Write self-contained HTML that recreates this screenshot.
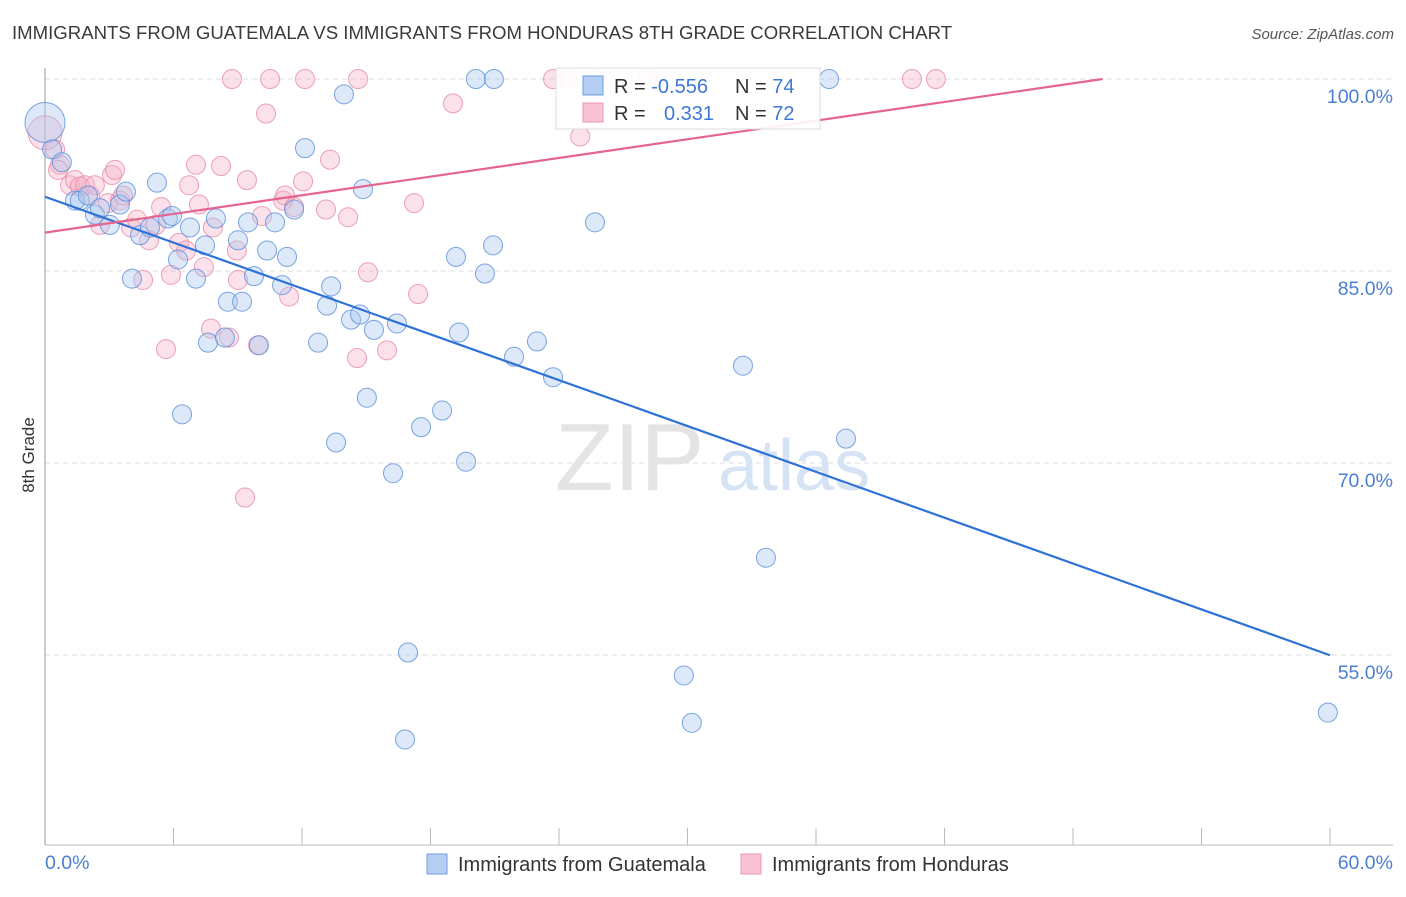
<!DOCTYPE html>
<html><head><meta charset="utf-8"><style>
body{margin:0;background:#fff;font-family:"Liberation Sans",sans-serif;}
svg text{font-family:"Liberation Sans",sans-serif;}
</style></head><body>
<svg id="chart" width="1406" height="892" viewBox="0 0 1406 892" xmlns="http://www.w3.org/2000/svg">
<text x="12" y="39" font-size="18.6" fill="#3a3a3a">IMMIGRANTS FROM GUATEMALA VS IMMIGRANTS FROM HONDURAS 8TH GRADE CORRELATION CHART</text>
<text x="1394" y="39" font-size="15" fill="#555" font-style="italic" text-anchor="end">Source: ZipAtlas.com</text>
<g id="grid"></g>
<text x="555" y="490" font-size="96" fill="#e4e4e4" font-family="Liberation Serif" >ZIP</text>
<text x="718" y="490" font-size="72" fill="#d6e3f5">atlas</text>
<line x1="45" y1="68" x2="45" y2="845" stroke="#bbb" stroke-width="1.5"/>
<line x1="45" y1="845" x2="1393" y2="845" stroke="#bbb" stroke-width="1"/>
<g id="ticks"></g>
<g id="points"></g>
<g id="trends"></g>
<text transform="translate(34,455) rotate(-90)" font-size="17" fill="#333" text-anchor="middle">8th Grade</text>
<text x="45" y="869" font-size="19.5" fill="#4a7fd4">0.0%</text>
<text x="1393" y="869" font-size="19.5" fill="#4a7fd4" text-anchor="end">60.0%</text>
<g>
<rect x="556" y="68" width="264" height="61" fill="#fff" fill-opacity="0.9" stroke="#ddd"/>
<rect x="583" y="76" width="20" height="19" fill="#b4cff3" stroke="#6f9ee0"/>
<rect x="583" y="103" width="20" height="19" fill="#f9c3d3" stroke="#ec97b1"/>
<text x="614" y="93" font-size="20" fill="#333">R = <tspan fill="#3e78d6">-0.556</tspan></text>
<text x="735" y="93" font-size="20" fill="#333">N = <tspan fill="#3e78d6">74</tspan></text>
<text x="614" y="120" font-size="20" fill="#333">R = <tspan fill="#3e78d6" x="664">0.331</tspan></text>
<text x="735" y="120" font-size="20" fill="#333">N = <tspan fill="#3e78d6">72</tspan></text>
</g>
<g>
<rect x="427" y="854" width="20" height="20" fill="#b4cff3" stroke="#6f9ee0"/>
<text x="458" y="871" font-size="20" fill="#333">Immigrants from Guatemala</text>
</g>
<g>
<rect x="741" y="854" width="20" height="20" fill="#f9c3d3" stroke="#ec97b1"/>
<text x="772" y="871" font-size="20" fill="#333">Immigrants from Honduras</text>
</g>
</svg>
<script>
const yTicks=[100,85,70,55];
const yTickLabels=["100.0%","85.0%","70.0%","55.0%"];
const xTicks=[0,6,12,18,24,30,36,42,48,54,60];
const guatX=[0,0.33,0.79,1.40,1.63,2.33,2.0,2.57,3.03,3.50,3.78,4.44,4.90,5.23,5.74,5.93,4.06,6.21,6.77,7.05,7.47,7.98,8.54,9.20,9.01,9.48,9.76,10.37,10.74,11.07,11.30,11.63,12.14,7.61,8.40,9.99,6.40,12.75,13.17,13.36,13.96,14.29,14.71,14.85,15.36,16.43,13.59,15.03,16.25,16.95,16.81,17.56,18.54,19.19,19.33,19.66,20.12,20.96,20.54,20.92,21.90,22.97,23.72,25.68,29.83,30.2,32.59,33.66,36.61,37.40,59.90];
const guatY=[96.6,94.5,93.5,90.5,90.5,89.4,90.9,89.9,88.6,90.2,91.2,87.8,88.4,91.9,89.1,89.3,84.4,85.9,88.4,84.4,87.0,89.1,82.6,82.6,87.4,88.8,84.6,86.6,88.8,83.9,86.1,89.8,94.6,79.4,79.8,79.2,73.8,79.4,82.3,83.8,98.8,81.2,81.6,91.4,80.4,80.9,71.6,75.1,69.2,55.2,48.4,72.8,74.1,86.1,80.2,70.1,100,100,84.8,87.0,78.3,79.5,76.7,88.8,53.4,49.7,77.6,62.6,100,71.9,50.5];
const hondX=[0,0.47,0.70,0.61,1.17,1.40,1.63,1.87,2.10,2.57,2.94,3.13,3.27,3.50,3.64,4.02,4.30,4.86,4.58,5.18,5.42,5.65,5.88,6.26,6.59,6.73,7.05,7.19,7.42,7.75,7.84,8.22,8.59,8.73,8.96,9.01,9.34,9.43,9.95,10.13,10.32,10.51,11.12,11.21,11.40,11.63,12.05,12.14,13.12,13.31,14.15,14.57,14.62,15.08,15.97,17.23,17.42,19.05,23.72,24.38,24.99,25.73,28.15,40.48,41.60,2.33];
const hondY=[95.8,94.5,93.3,92.9,91.7,92.1,91.6,91.7,90.9,88.6,90.3,92.5,92.9,90.5,90.9,88.4,89.0,87.4,84.3,88.6,90.0,78.9,84.7,87.2,86.6,91.7,93.3,90.2,85.3,80.5,88.4,93.2,79.8,100,86.6,84.3,67.3,92.1,79.2,89.3,97.3,100,90.5,90.9,83.0,90.0,92.0,100,89.8,93.7,89.2,78.2,100,84.9,78.8,90.3,83.2,98.1,100,100,95.5,100,100,100,100,91.7];
const guatTrend=[90.8,-0.597]; // intercept, slope per %
const hondTrend=[88.0,0.243];
const X=v=>45+v*(1285/60);
const Y=v=>79+(100-v)*12.8;
const NS="http://www.w3.org/2000/svg";
const grid=document.getElementById('grid'),ticks=document.getElementById('ticks'),pts=document.getElementById('points'),tr=document.getElementById('trends');
yTicks.forEach((t,i)=>{
 const l=document.createElementNS(NS,'line');
 
 
 l.setAttribute('x1',45);l.setAttribute('x2',1393);l.setAttribute('y1',Y(t));l.setAttribute('y2',Y(t));
 l.setAttribute('stroke','#ddd');l.setAttribute('stroke-dasharray','5,4');grid.appendChild(l);
 const tx=document.createElementNS(NS,'text');
 
 
 tx.setAttribute('x',1393);tx.setAttribute('y',Y(t)+24);tx.setAttribute('text-anchor','end');
 tx.setAttribute('font-size','19.5');tx.setAttribute('fill','#4a7fd4');tx.textContent=yTickLabels[i];grid.appendChild(tx);
});
xTicks.forEach(t=>{
 const l=document.createElementNS(NS,'line');
 
 
 l.setAttribute('x1',X(t));l.setAttribute('x2',X(t));l.setAttribute('y1',828);l.setAttribute('y2',845);
 l.setAttribute('stroke','#bbb');ticks.appendChild(l);
});
function dot(x,y,r,fill,stroke,name){
 const c=document.createElementNS(NS,'circle');
 
 
 c.setAttribute('cx',X(x));c.setAttribute('cy',Y(y));c.setAttribute('r',r);
 c.setAttribute('fill',fill);c.setAttribute('fill-opacity','0.4');c.setAttribute('stroke',stroke);c.setAttribute('stroke-opacity','0.8');
 pts.appendChild(c);
}
hondX.forEach((x,i)=>dot(x,hondY[i],i==0?17:9.5,'#f5b3c8','#e98aa8','honduras-point'));
guatX.forEach((x,i)=>dot(x,guatY[i],i==0?20:9.5,'#a9c7f0','#5a8edb','guatemala-point'));
function line(a,b,x0,x1,col,name){
 const l=document.createElementNS(NS,'line');
 
 
 l.setAttribute('x1',X(x0));l.setAttribute('y1',Y(a+b*x0));l.setAttribute('x2',X(x1));l.setAttribute('y2',Y(a+b*x1));
 l.setAttribute('stroke',col);l.setAttribute('stroke-width','2.2');tr.appendChild(l);
}
line(guatTrend[0],guatTrend[1],0,60,'#2f72d6','guatemala-trend-line');
line(hondTrend[0],hondTrend[1],0,(100-hondTrend[0])/hondTrend[1],'#e6658f','honduras-trend-line');
</script>
</body></html>
